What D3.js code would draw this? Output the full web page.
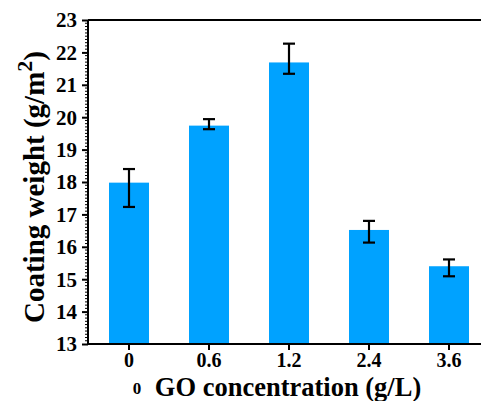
<!DOCTYPE html>
<html><head><meta charset="utf-8">
<script src="https://cdn.jsdelivr.net/npm/d3@7"></script>
<style>body{margin:0;background:#fff}svg{display:block}text{font-family:"Liberation Serif","Times New Roman",serif;font-weight:bold;fill:#000}</style>
</head><body><svg id="c" width="481" height="401"></svg>
<script>
const categories = ["0","0.6","1.2","2.4","3.6"];
const values = [17.98, 19.74, 21.69, 16.52, 15.40];
const errUpper = [18.40, 19.94, 22.27, 16.80, 15.61];
const errLower = [17.23, 19.63, 21.34, 16.13, 15.09];
const yTicks = [13,14,15,16,17,18,19,20,21,22,23];

const svg = d3.select("#c");
const L = 88, R = 489, T = 20, B = 344;
const x = d3.scaleBand().domain(categories).range([L+1, R]).paddingInner(0.5).paddingOuter(0.25);
const y = d3.scaleLinear().domain([13,23]).range([B, T]);

// bars
svg.selectAll("rect.bar").data(values).join("rect").attr("class","bar")
  .attr("x",(d,i)=>x(categories[i])).attr("width",x.bandwidth())
  .attr("y",d=>y(d)).attr("height",d=>B-y(d)).attr("fill","#00a2ff");

// error bars
const eg = svg.append("g").attr("stroke","#000").attr("stroke-width",2.2);
categories.forEach((c,i)=>{
  const cx = x(c)+x.bandwidth()/2;
  eg.append("line").attr("x1",cx).attr("x2",cx).attr("y1",y(errUpper[i])).attr("y2",y(errLower[i]));
  eg.append("line").attr("x1",cx-6).attr("x2",cx+6).attr("y1",y(errUpper[i])).attr("y2",y(errUpper[i]));
  eg.append("line").attr("x1",cx-6).attr("x2",cx+6).attr("y1",y(errLower[i])).attr("y2",y(errLower[i]));
});

// top frame line
svg.append("line").attr("x1",L).attr("x2",R).attr("y1",T).attr("y2",T).attr("stroke","#000").attr("stroke-width",2);

// y axis minor ticks
const minor = d3.range(130,231).map(v=>v/10).filter(v=>Math.abs(v-Math.round(v))>1e-6);
svg.append("g").selectAll("line").data(minor).join("line")
  .attr("x1",L-3).attr("x2",L).attr("y1",d=>y(d)).attr("y2",d=>y(d)).attr("stroke","#000").attr("stroke-width",1);

const ya = svg.append("g").attr("transform",`translate(${L},0)`)
  .call(d3.axisLeft(y).tickValues(yTicks).tickSize(6).tickPadding(5).tickFormat(d3.format("d")));
ya.select(".domain").attr("stroke-width",2).attr("d",`M0,${T}V${B}`);
ya.selectAll(".tick line").attr("stroke-width",2);
ya.selectAll(".tick text").attr("font-size",21).attr("font-family","Liberation Serif").attr("font-weight","bold").attr("fill","#000").attr("dy","0.33em");

const xa = svg.append("g").attr("transform",`translate(0,${B})`)
  .call(d3.axisBottom(x).tickSize(6).tickPadding(3));
xa.select(".domain").attr("stroke-width",2).attr("d",`M${L},0H${R}`);
xa.selectAll(".tick line").attr("stroke-width",2);
xa.selectAll(".tick text").attr("font-size",20).attr("font-family","Liberation Serif").attr("font-weight","bold").attr("fill","#000");

// axis titles
svg.append("text").attr("x",137).attr("y",394).attr("text-anchor","middle").attr("font-size",17).text("0");
svg.append("text").attr("x",288).attr("y",396).attr("text-anchor","middle").attr("font-size",26.5).text("GO concentration (g/L)");

const yt = svg.append("text").attr("transform","translate(44,187) rotate(-90)").attr("text-anchor","middle").attr("font-size",29);
yt.append("tspan").text("Coating weight (g/m");
yt.append("tspan").attr("font-size",22).attr("dy","-12").text("2");
yt.append("tspan").attr("dy","12").text(")");
</script></body></html>
